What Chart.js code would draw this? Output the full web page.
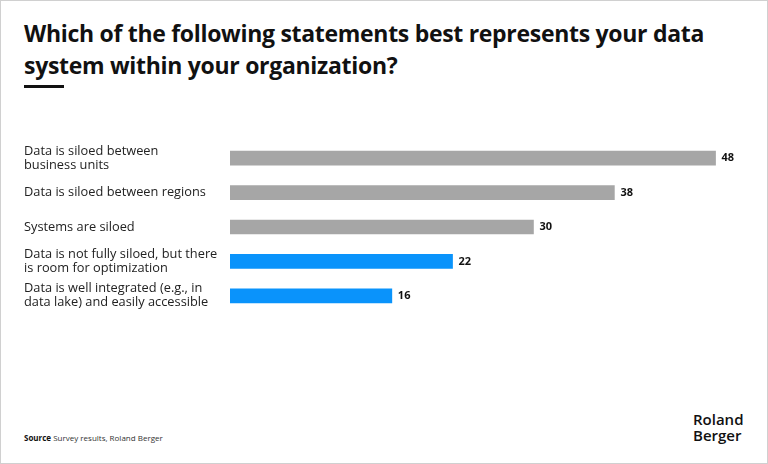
<!DOCTYPE html>
<html>
<head>
<meta charset="utf-8">
<script src="https://cdn.jsdelivr.net/npm/chart.js@4"></script>
<style>
    body { margin: 0; background: #fff; }
    #frame { position: relative; width: 766px; height: 462px; border: 1px solid #d0d0d0; background: #fff; overflow: hidden; font-family: "Open Sans", sans-serif; }
    #title { position: absolute; left: 23px; top: 16px; width: 720px; font-size: 23px; font-weight: 700; line-height: 32px; color: #111; letter-spacing: -0.3px; }
    #rule { position: absolute; left: 23px; top: 84px; width: 40px; height: 3px; background: #111; }
    #chartBox { position: absolute; left: -1px; top: 126px; width: 768px; height: 200px; }
    #source { position: absolute; left: 23px; top: 431px; font-size: 8px; color: #333; }
    #source b { font-weight: 700; color: #111; }
    #logo { position: absolute; left: 692px; top: 410px; font-size: 15px; font-weight: 600; line-height: 16px; color: #111; }
</style>
</head>
<body>
<div id="frame">
    <div id="title">Which of the following statements best represents your data system within your organization?</div>
    <div id="rule"></div>
    <div id="chartBox"><canvas id="theGraph"></canvas></div>
    <div id="source"><b>Source</b> Survey results, Roland Berger</div>
    <div id="logo">Roland<br>Berger</div>
</div>
<script>
var categories = [
    ["Data is siloed between", "business units"],
    "Data is siloed between regions",
    "Systems are siloed",
    ["Data is not fully siloed, but there", "is room for optimization"],
    ["Data is well integrated (e.g., in", "data lake) and easily accessible"]
];
var answerShare = [48, 38, 30, 22, 16];
var barColors = ["#a6a6a6", "#a6a6a6", "#a6a6a6", "#0a93fb", "#0a93fb"];

// writes the number at the end of each bar
var valueLabels = {
    id: "valueLabels",
    afterDatasetsDraw: function(chart) {
        var ctx = chart.ctx;
        var meta = chart.getDatasetMeta(0);
        ctx.save();
        ctx.font = "bold 11px 'Open Sans', sans-serif";
        ctx.fillStyle = "#111";
        ctx.textBaseline = "middle";
        meta.data.forEach(function(bar, i) {
            ctx.fillText(answerShare[i], bar.x + 6, bar.y);
        });
        ctx.restore();
    }
};

function generateChart() {
    var ctx = document.getElementById("theGraph").getContext("2d");
    new Chart(ctx, {
        type: "bar",
        data: {
            labels: categories,
            datasets: [{
                data: answerShare,
                backgroundColor: barColors,
                barThickness: 14
            }]
        },
        options: {
            indexAxis: "y",
            responsive: true,
            maintainAspectRatio: false,
            animation: false,
            layout: {
                padding: { left: 24, right: 12, top: 0, bottom: 0 }
            },
            plugins: {
                legend: { display: false },
                tooltip: { enabled: false }
            },
            scales: {
                x: {
                    display: false,
                    min: 0,
                    max: 52
                },
                y: {
                    grid: { display: false, drawTicks: false },
                    border: { display: false },
                    afterFit: function(axis) { axis.width = 206; },
                    ticks: {
                        crossAlign: "far",
                        padding: 0,
                        color: "#222",
                        font: { family: "'Open Sans', sans-serif", size: 12.8, lineHeight: "14px" }
                    }
                }
            }
        },
        plugins: [valueLabels]
    });
}
generateChart();
</script>
</body>
</html>
